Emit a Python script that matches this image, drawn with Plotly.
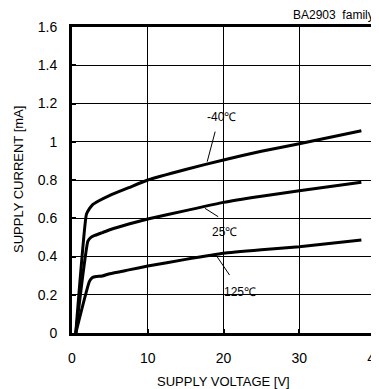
import plotly.graph_objects as go

# Data
v_m40 = [0.5, 1.9, 2.3, 2.7, 3.5, 5, 7.5, 10, 15, 20, 25, 30, 38.2]
i_m40 = [0, 0.62, 0.65, 0.67, 0.69, 0.72, 0.76, 0.80, 0.855, 0.905, 0.95, 0.99, 1.058]
v_25 = [0.5, 2.1, 2.5, 3, 4, 5, 7.5, 10, 15, 20, 25, 30, 38.2]
i_25 = [0, 0.48, 0.50, 0.51, 0.525, 0.54, 0.57, 0.596, 0.64, 0.683, 0.715, 0.744, 0.788]
v_125 = [0.5, 2.3, 2.7, 3.2, 4, 5, 7.5, 10, 15, 20, 25, 30, 38.2]
i_125 = [0, 0.27, 0.29, 0.295, 0.298, 0.31, 0.33, 0.35, 0.385, 0.417, 0.435, 0.451, 0.486]

labels = ["-40℃", "25℃", "125℃"]
label_x = [19.7, 20.1, 22.2]
label_y = [1.131, 0.530, 0.216]
leader_x = [[18.9, 17.85], [17.55, 19.3], [19.0, 20.8]]
leader_y = [[1.053, 0.896], [0.652, 0.608], [0.408, 0.303]]

x_ticks = [0, 10, 20, 30, 40]
y_ticks = [0, 0.2, 0.4, 0.6, 0.8, 1.0, 1.2, 1.4, 1.6]
y_ticktext = ["0", "0.2", "0.4", "0.6", "0.8", "1", "1.2", "1.4", "1.6"]

FONT = "Liberation Sans, Arial, sans-serif"

fig = go.Figure()
for vx, iy in [(v_m40, i_m40), (v_25, i_25), (v_125, i_125)]:
    fig.add_trace(go.Scatter(x=vx, y=iy, mode="lines",
                             line=dict(color="black", width=3, shape="spline", smoothing=0.4),
                             showlegend=False, hoverinfo="skip"))
for lx, ly in zip(leader_x, leader_y):
    fig.add_trace(go.Scatter(x=lx, y=ly, mode="lines",
                             line=dict(color="black", width=1),
                             showlegend=False, hoverinfo="skip"))

for t, x, y in zip(labels, label_x, label_y):
    fig.add_annotation(x=x, y=y, xref="x", yref="y", text=t, showarrow=False,
                       font=dict(family=FONT, size=12, color="black"))

fig.add_annotation(x=1.0, y=1.0, xref="paper", yref="paper", yshift=12,
                   xanchor="left", xshift=-84, yanchor="middle",
                   text="BA2903  family", showarrow=False,
                   font=dict(family=FONT, size=12, color="black"))

# axis titles
fig.add_annotation(x=0.5, y=0, xref="paper", yref="paper", yshift=-48,
                   xanchor="center", yanchor="middle", text="SUPPLY VOLTAGE [V]",
                   showarrow=False, font=dict(family=FONT, size=13, color="black"))
fig.add_annotation(x=0, y=0.5, xref="paper", yref="paper", xshift=-54,
                   xanchor="center", yanchor="middle", text="SUPPLY CURRENT [mA]",
                   textangle=-90, showarrow=False,
                   font=dict(family=FONT, size=13, color="black"))

axis_common = dict(showgrid=True, gridcolor="black", gridwidth=1,
                   showline=True, linecolor="black", linewidth=3, mirror=True,
                   ticks="inside", ticklen=4, tickwidth=2, tickcolor="black",
                   zeroline=False, automargin=False, ticklabeloverflow="allow",
                   tickfont=dict(family=FONT, size=14, color="black"))

fig.update_xaxes(range=[0, 40], tickvals=x_ticks, ticktext=[str(v) for v in x_ticks],
                 ticklabelstandoff=10, **axis_common)
fig.update_yaxes(range=[0, 1.6], tickvals=y_ticks, ticktext=y_ticktext,
                 ticklabelstandoff=9, **axis_common)

# the page body adds an 8px offset, so the figure is sized to the remaining window
fig.update_layout(width=371, height=381,
                  margin=dict(l=64, r=4, t=19, b=56),
                  paper_bgcolor="white", plot_bgcolor="white")

fig.write_html("out.html")
